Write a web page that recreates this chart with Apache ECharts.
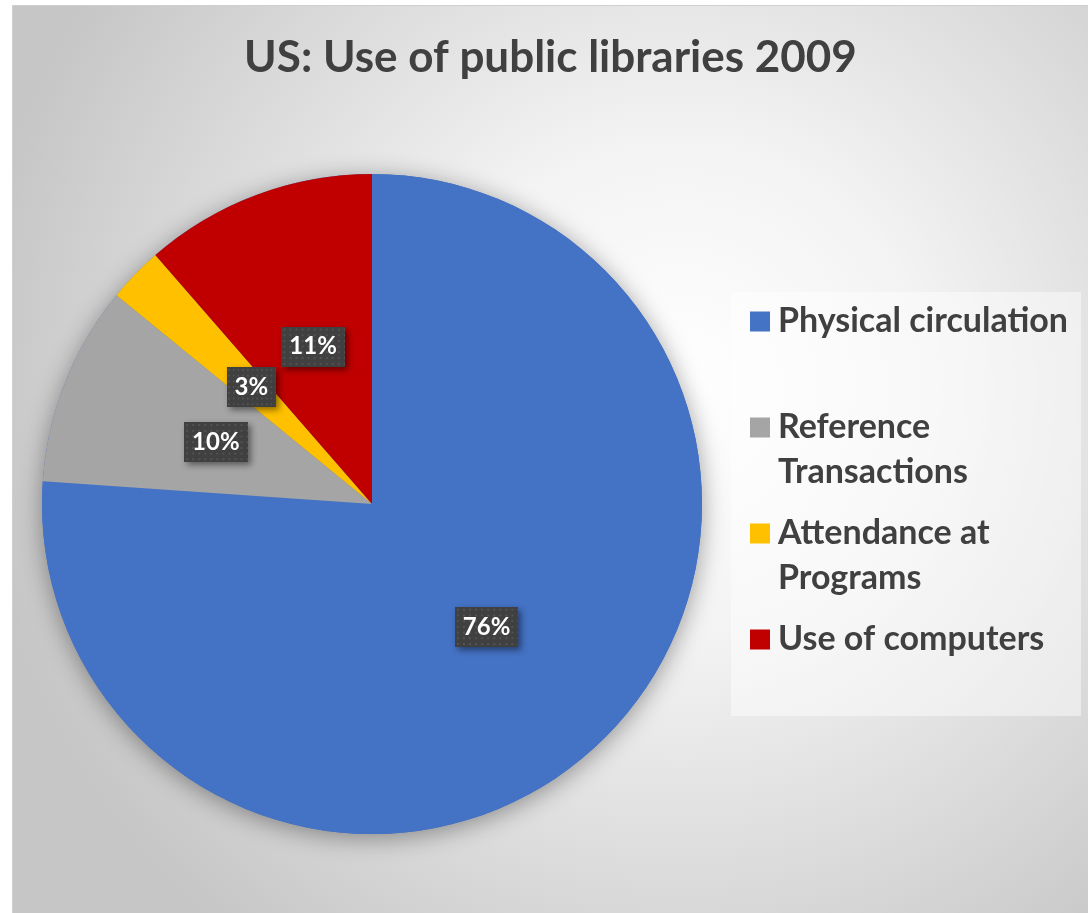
<!DOCTYPE html>
<html>
<head>
<meta charset="utf-8">
<script src="https://cdn.jsdelivr.net/npm/echarts@6/dist/echarts.min.js"></script>
<style>
html,body{margin:0;padding:0;background:#fff;}
#frame{position:absolute;left:12px;top:5px;width:1076px;height:908px;border-top:1px solid #cfcfcf;border-left:1px solid #cfcfcf;box-sizing:border-box;}
#chart{width:100%;height:100%;}
</style>
</head>
<body>
<div id="frame"><div id="chart"></div></div>
<script>
const titleText = 'US: Use of public libraries 2009';
const categories = ['Physical circulation', 'Reference Transactions', 'Attendance at Programs', 'Use of computers'];
const legendLines = [['Physical circulation', ''], ['Reference', 'Transactions'], ['Attendance at', 'Programs'], ['Use of computers', '']];
const values = [76.1, 9.8, 2.7, 11.4];
const colors = ['#4472C4', '#A5A5A5', '#FFC000', '#C00000'];

const FONT = 'Lato';
const TXT = '#404040';

// dotted label background
const pat = document.createElement('canvas');
pat.width = 63; pat.height = 42;
const pc = pat.getContext('2d');
pc.fillStyle = '#404040';
pc.fillRect(0, 0, 63, 42);
pc.fillStyle = '#535353';
for (let y = 2; y < 42; y += 6) for (let x = 2; x < 63; x += 6) pc.fillRect(x, y, 2, 2);

const total = values.reduce((a, b) => a + b, 0);

const rich = {};
colors.forEach((c, i) => {
  rich['sq' + i] = {backgroundColor: c, width: 20, height: 20, lineHeight: 45};
});
rich.sp = {width: 8, lineHeight: 45};
rich.ind = {width: 28, lineHeight: 45};
rich.t = {fontFamily: FONT, fontWeight: 'bold', fontSize: 34, color: TXT, lineHeight: 45};

const chart = echarts.init(document.getElementById('chart'), null, {renderer: 'canvas'});
chart.setOption({
  backgroundColor: {
    type: 'radial', x: 0.62, y: 0.42, r: 0.78,
    colorStops: [{offset: 0, color: '#ffffff'}, {offset: 0.35, color: '#f3f3f3'}, {offset: 1, color: '#c6c6c6'}]
  },
  animation: false,
  title: {
    text: titleText, left: 'center', top: 25,
    padding: [5, 5, 5, 27],
    textStyle: {fontFamily: FONT, fontWeight: 'bold', fontSize: 44, color: TXT}
  },
  legend: {
    orient: 'vertical', left: 718, top: 286,
    data: categories,
    itemWidth: 0, itemHeight: 0, itemGap: 16,
    backgroundColor: 'rgba(255,255,255,0.45)',
    padding: [7, 13, 9, 14],
    selectedMode: false,
    textStyle: {rich: rich, fontFamily: FONT, fontWeight: 'bold', fontSize: 34, color: TXT, lineHeight: 45},
    formatter: function (name) {
      const i = categories.indexOf(name);
      const l = legendLines[i];
      return '{sq' + i + '|}{sp|}{t|' + l[0] + '}\n{ind|}{t|' + (l[1] || ' ') + '}';
    }
  },
  series: [
    {
      type: 'pie', center: [359, 498], radius: 330, silent: true, z: 1,
      label: {show: false}, labelLine: {show: false},
      itemStyle: {color: '#4472C4', shadowBlur: 24, shadowColor: 'rgba(0,0,0,0.38)', shadowOffsetY: 4},
      data: [{value: total, name: '_shadow'}]
    },
    {
      type: 'pie', center: [359, 498], radius: 330, startAngle: 90, clockwise: true, z: 2,
      avoidLabelOverlap: false,
      data: categories.map((n, i) => ({name: n, value: values[i], itemStyle: {color: colors[i]}})),
      label: {
        show: true, position: 'inside',
        formatter: p => Math.round(p.percent) + '%',
        fontFamily: FONT, fontWeight: 'bold', fontSize: 24, color: '#ffffff',
        backgroundColor: {image: pat},
        padding: [9, 8, 7, 8],
        shadowBlur: 6, shadowColor: 'rgba(0,0,0,0.45)', shadowOffsetX: 3, shadowOffsetY: 3
      },
      labelLine: {show: false},
      emphasis: {disabled: true}
    }
  ]
});
</script>
</body>
</html>
